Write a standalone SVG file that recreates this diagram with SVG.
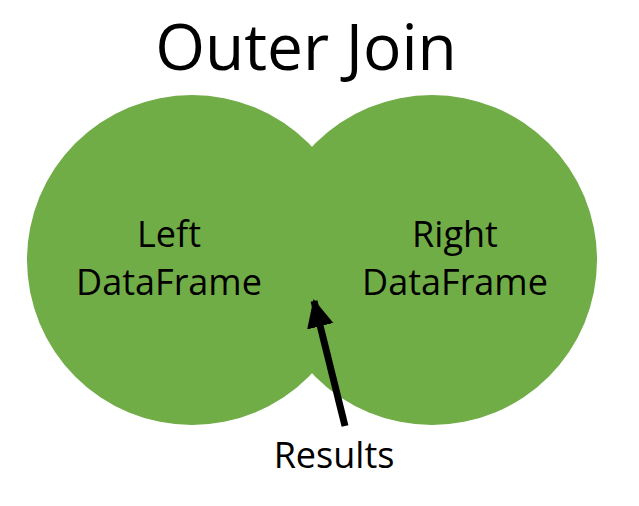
<svg xmlns="http://www.w3.org/2000/svg" width="639" height="506" viewBox="0 0 639 506">
  <style>
    .set { fill: #70AD47; }
    .label { font-family: "Open Sans", "Liberation Sans", sans-serif; fill: #000000; text-anchor: middle; }
    .title { font-size: 64px; }
    .name { font-size: 36px; }
    .link { stroke: #000000; stroke-width: 7; fill: none; }
  </style>
  <defs>
    <marker id="arrowhead" markerUnits="userSpaceOnUse" markerWidth="30" markerHeight="30" viewBox="0 0 30 30" refX="26" refY="15" orient="auto">
      <path d="M0,1.5 L28,15 L0,28.5 Z" fill="#000000"/>
    </marker>
  </defs>

  <rect width="639" height="506" fill="#ffffff"/>

  <text id="title" class="label title" x="306" y="70">Outer Join</text>

  <g id="left-dataframe">
    <circle class="set" cx="192" cy="260" r="165"/>
  </g>
  <g id="right-dataframe">
    <circle class="set" cx="432" cy="260" r="165"/>
  </g>

  <g id="left-label">
    <text class="label name" x="169" y="247">Left</text>
    <text class="label name" x="169" y="295">DataFrame</text>
  </g>
  <g id="right-label">
    <text class="label name" x="455" y="247">Right</text>
    <text class="label name" x="455" y="295">DataFrame</text>
  </g>

  <g id="results">
    <text class="label name" x="334" y="468">Results</text>
  </g>

  <g id="connectors">
    <line class="link" x1="345" y1="426" x2="314" y2="301" marker-end="url(#arrowhead)"/>
  </g>
</svg>
